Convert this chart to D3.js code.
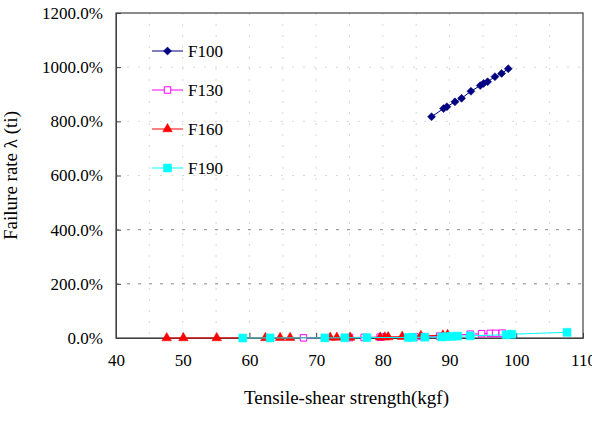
<!DOCTYPE html>
<html>
<head>
<meta charset="utf-8">
<script src="https://cdn.jsdelivr.net/npm/d3@7"></script>
<style>
  body { margin: 0; background: #fff; }
  text { font-family: "Liberation Serif", "Times New Roman", serif; fill: #000; }
</style>
</head>
<body>
<svg id="chart" width="592" height="426"></svg>
<script>
// data
let f100X = [87.3, 89.1, 89.6, 90.8, 91.8, 93.2, 94.6, 95.1, 95.7, 96.8, 97.8, 98.8];
let f100Y = [817, 847, 854, 872, 885, 911, 932, 940, 946, 965, 977, 994];

let f130X = [68.1, 75.0, 77.2, 79.6, 84.8, 86.0, 88.5, 93.1, 94.8, 96.1, 96.9, 97.9];
let f130Y = [0.5, 1.5, 2, 3, 4, 5, 7, 14, 16, 17, 17, 18];

let f160X = [47.6, 50.1, 55.1, 62.4, 64.6, 66.1, 72.1, 73.1, 75.1, 79.6, 80.3, 80.8, 82.9, 85.7, 89.0, 89.7];
let f160Y = [0, 0, 0.2, 0.5, 0.8, 1, 1.5, 1.8, 2, 2.5, 3, 3.5, 5, 8, 10, 12];

let f190X = [59.0, 63.1, 71.3, 74.3, 77.6, 83.8, 84.5, 86.3, 88.8, 89.5, 90.3, 91.2, 93.1, 98.5, 99.3, 107.6];
let f190Y = [0, 0.3, 0.5, 0.8, 1.5, 2, 2.5, 3, 4, 5, 6, 7, 8, 12, 14, 21];

let seriesNames = ["F100", "F130", "F160", "F190"];
let xTicks = [40, 50, 60, 70, 80, 90, 100, 110];
let yTicks = [0, 200, 400, 600, 800, 1000, 1200];

let svg = d3.select("#chart");
let plotLeft = 116, plotRight = 583, plotTop = 13, plotBottom = 338;

let xScale = d3.scaleLinear().domain([40, 110]).range([plotLeft, plotRight]);
let yScale = d3.scaleLinear().domain([0, 1200]).range([plotBottom, plotTop]);

// light grid
let grid = svg.append("g");
d3.range(45, 110, 5).forEach(function(v) {
    grid.append("line")
        .attr("x1", xScale(v)).attr("x2", xScale(v))
        .attr("y1", plotTop).attr("y2", plotBottom)
        .attr("stroke", "#d8d8d8").attr("stroke-dasharray", "2,9");
});
[600, 800, 1000].forEach(function(v) {
    grid.append("line")
        .attr("x1", plotLeft).attr("x2", plotRight)
        .attr("y1", yScale(v)).attr("y2", yScale(v))
        .attr("stroke", "#d8d8d8").attr("stroke-dasharray", "2,9");
});
[200, 400].forEach(function(v) {
    grid.append("line")
        .attr("x1", plotLeft).attr("x2", plotRight)
        .attr("y1", yScale(v)).attr("y2", yScale(v))
        .attr("stroke", "#888").attr("stroke-dasharray", "3,8");
});

// frame
svg.append("rect")
    .attr("x", plotLeft).attr("y", plotTop)
    .attr("width", plotRight - plotLeft).attr("height", plotBottom - plotTop)
    .attr("fill", "none").attr("stroke", "#404040").attr("stroke-width", 1.2);

// axes (ticks point inward)
let xAxis = d3.axisBottom(xScale).tickValues(xTicks).tickSizeInner(-5).tickSizeOuter(0).tickPadding(16);
let yAxis = d3.axisLeft(yScale).tickValues(yTicks).tickSizeInner(-5).tickSizeOuter(0).tickPadding(13)
    .tickFormat(d => d.toFixed(1) + "%");

let gx = svg.append("g").attr("transform", "translate(0," + plotBottom + ")").call(xAxis);
let gy = svg.append("g").attr("transform", "translate(" + plotLeft + ",0)").call(yAxis);
[gx, gy].forEach(function(g) {
    g.select(".domain").attr("stroke", "#404040");
    g.selectAll(".tick line").attr("stroke", "#404040");
    g.selectAll(".tick text").attr("font-size", 17).attr("fill", "#000");
});

svg.append("text")
    .attr("x", (plotLeft + plotRight) / 2 - 3).attr("y", 404)
    .attr("text-anchor", "middle").attr("font-size", 19)
    .text("Tensile-shear strength(kgf)");

svg.append("text")
    .attr("transform", "translate(17," + ((plotTop + plotBottom) / 2) + ") rotate(-90)")
    .attr("text-anchor", "middle").attr("font-size", 19)
    .text("Failure rate λ (ti)");

// series
let series = [
    { name: seriesNames[0], xs: f100X, ys: f100Y, color: "#000080", symbol: d3.symbolSquare, size: 32, rot: 45, fill: true },
    { name: seriesNames[1], xs: f130X, ys: f130Y, color: "#ff00ff", symbol: d3.symbolSquare, size: 42, rot: 0, fill: false },
    { name: seriesNames[2], xs: f160X, ys: f160Y, color: "#ff0000", symbol: d3.symbolTriangle, size: 40, rot: 0, fill: true },
    { name: seriesNames[3], xs: f190X, ys: f190Y, color: "#00ffff", symbol: d3.symbolSquare, size: 64, rot: 0, fill: true }
];

let valueLine = d3.line().x(d => xScale(d.x)).y(d => yScale(d.y));

function drawMarker(g, s, cx, cy) {
    g.append("path")
        .attr("d", d3.symbol().type(s.symbol).size(s.size)())
        .attr("transform", "translate(" + cx + "," + cy + ") rotate(" + s.rot + ")")
        .attr("fill", s.fill ? s.color : "#fff")
        .attr("stroke", s.color)
        .attr("stroke-width", s.fill ? 0.5 : 1);
}

series.forEach(function(s) {
    let pts = s.xs.map((x, i) => ({ x: x, y: s.ys[i] }));
    let g = svg.append("g");
    g.append("path").datum(pts)
        .attr("d", valueLine)
        .attr("fill", "none").attr("stroke", s.color).attr("stroke-width", 1);
    pts.forEach(p => drawMarker(g, s, xScale(p.x), yScale(p.y)));
});

// legend
let legendY = [51, 90, 129, 168];
series.forEach(function(s, i) {
    let g = svg.append("g");
    g.append("line")
        .attr("x1", 152).attr("x2", 183)
        .attr("y1", legendY[i]).attr("y2", legendY[i])
        .attr("stroke", s.color).attr("stroke-width", 1);
    drawMarker(g, s, 167.5, legendY[i]);
    g.append("text")
        .attr("x", 188).attr("y", legendY[i] + 6)
        .attr("font-size", 17)
        .text(s.name);
});
</script>
</body>
</html>
